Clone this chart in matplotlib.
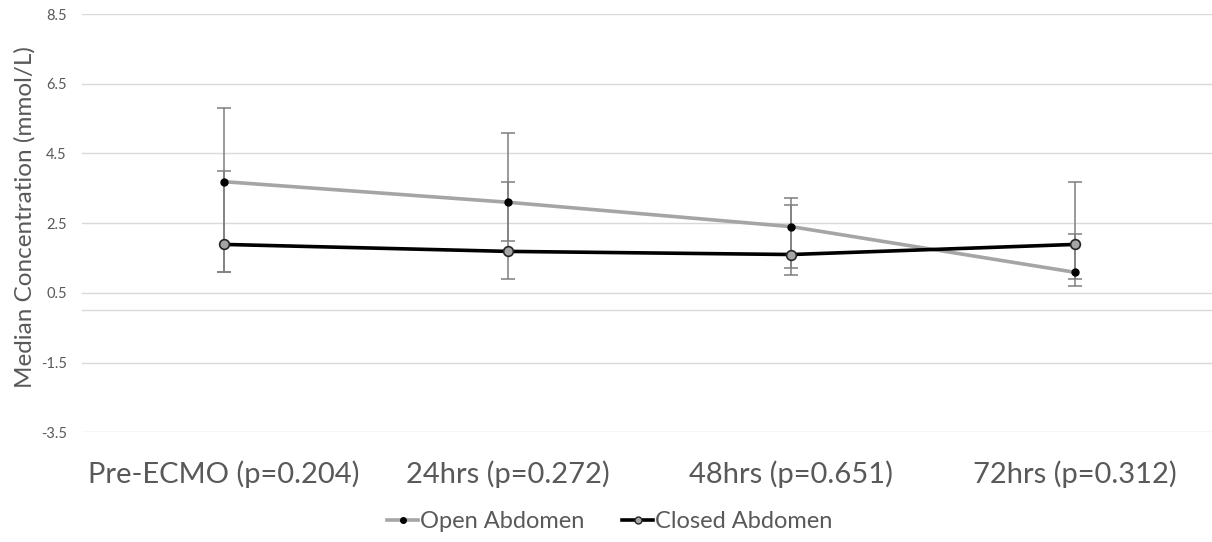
import numpy as np
import matplotlib
matplotlib.use("Agg")
import matplotlib.pyplot as plt
from matplotlib.lines import Line2D

# data
categories = ["Pre-ECMO (p=0.204)", "24hrs (p=0.272)", "48hrs (p=0.651)", "72hrs (p=0.312)"]
open_median = [3.69, 3.10, 2.40, 1.09]
open_upper = [5.79, 5.08, 3.21, 3.69]
open_lower = [1.10, 1.99, 1.20, 0.71]
closed_median = [1.89, 1.69, 1.60, 1.89]
closed_upper = [3.99, 3.68, 3.01, 2.20]
closed_lower = [1.10, 0.91, 1.00, 0.91]
yticks = [-3.5, -1.5, 0.5, 2.5, 4.5, 6.5, 8.5]

plt.rcParams['font.family'] = ['Lato', 'DejaVu Sans']
text_col = '#595959'
grid_col = '#D9D9D9'
open_col = '#A5A5A5'

fig = plt.figure(figsize=(12.12, 5.42), dpi=100)
ax = fig.add_axes([82/1212, 1 - 432.3/542, 1 - 82/1212, (432.3 - 14)/542])

x = np.arange(len(categories))

# error bars first so the lines sit on top
ax.errorbar(x, open_median,
            yerr=[np.array(open_median) - np.array(open_lower), np.array(open_upper) - np.array(open_median)],
            fmt='none', ecolor='#7F7F7F', elinewidth=1.1, capsize=5, capthick=1.1, zorder=2)
ax.errorbar(x, closed_median,
            yerr=[np.array(closed_median) - np.array(closed_lower), np.array(closed_upper) - np.array(closed_median)],
            fmt='none', ecolor='#7F7F7F', elinewidth=1.1, capsize=5, capthick=1.1, zorder=2)

ax.plot(x, open_median, color=open_col, lw=2.6, marker='o', ms=5,
        mfc='black', mec='black', zorder=3)
ax.plot(x, closed_median, color='black', lw=2.6, marker='o', ms=7,
        mfc=open_col, mec='#262626', mew=1.2, zorder=4)

ax.set_ylim(-3.5, 8.5)
ax.set_xlim(-0.5, 3.483)
ax.set_yticks(yticks)
ax.set_yticklabels([str(v) for v in yticks])
ax.set_xticks(x)
ax.set_xticklabels(categories)
ax.grid(axis='y', color=grid_col, lw=1.0)
ax.axhline(0, color=grid_col, lw=1.0, zorder=1)
ax.set_axisbelow(True)
for s in ax.spines.values():
    s.set_visible(False)
ax.tick_params(axis='y', length=0, labelsize=10.5, labelcolor=text_col, pad=11)
ax.tick_params(axis='x', length=0, labelsize=21, labelcolor=text_col, pad=20)
ax.set_ylabel('Median Concentration (mmol/L)', fontsize=17.5, color=text_col)
ax.yaxis.set_label_coords(-46/1130, 0.515)

handles = [
    Line2D([0], [0], color=open_col, lw=2.6, marker='o', ms=4, mfc='black', mec='black'),
    Line2D([0], [0], color='black', lw=2.6, marker='o', ms=5, mfc=open_col, mec='#262626'),
]
leg = fig.legend(handles, ['Open Abdomen', 'Closed Abdomen'], loc='center',
                 bbox_to_anchor=(610/1212, 1 - 522/542), ncol=2, frameon=False,
                 fontsize=17, handlelength=1.3, handletextpad=0.1, columnspacing=1.6)
for t in leg.get_texts():
    t.set_color(text_col)

fig.savefig('out.png', dpi=100)
